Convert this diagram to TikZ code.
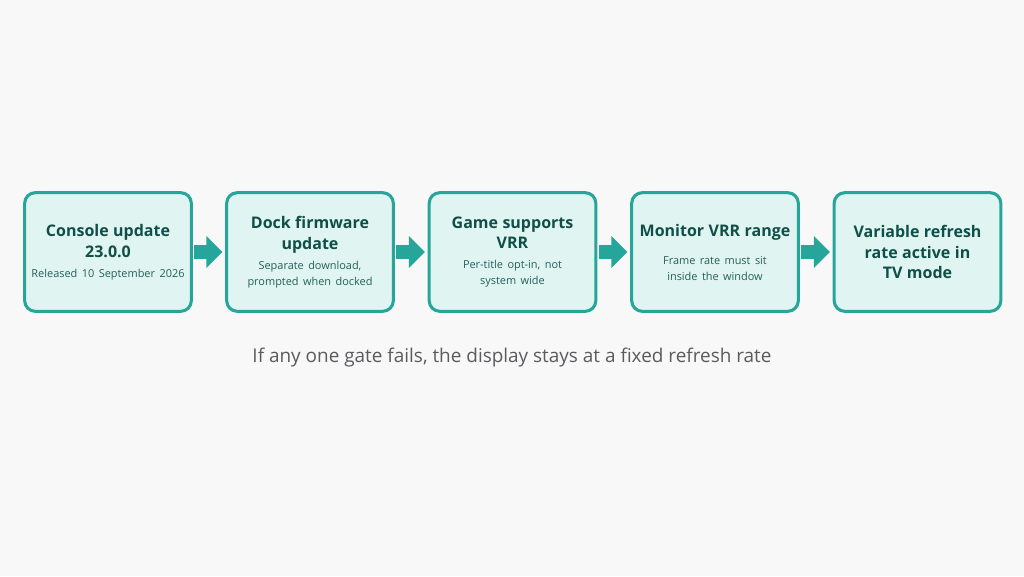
\documentclass[tikz,border=0pt]{standalone}
\usepackage{fontspec}
\setmainfont{Open Sans}
\usetikzlibrary{arrows.meta, positioning}

\definecolor{gateline}{HTML}{26A69A}
\definecolor{gatefill}{HTML}{E0F5F2}
\definecolor{gatetitle}{HTML}{0F4F48}
\definecolor{gatesub}{HTML}{245F58}
\definecolor{bgcol}{HTML}{F8F8F8}
\definecolor{notecol}{HTML}{5A5A60}

\begin{document}
\begin{tikzpicture}[x=0.75pt, y=-0.75pt]

% styles
\tikzset{gate/.style={draw=gateline, fill=gatefill, line width=2.3pt, rounded corners=8pt,
  minimum width=125pt, minimum height=89pt, text width=122pt, align=center, inner sep=0pt}}
\tikzset{flow/.style={draw=gateline, line width=10pt, -{Triangle[length=12pt, width=23pt]}, shorten <=1pt, shorten >=2pt}}
\newcommand{\gtitle}[1]{{\bfseries\fontsize{12}{15.5}\selectfont\color{gatetitle}#1\par}}
\newcommand{\gsub}[1]{{\fontsize{8.2}{12}\selectfont\color{gatesub}#1\par}}

\fill[bgcol] (0,0) rectangle (1024,576);
\useasboundingbox (0,0) rectangle (1024,576);

\node[gate] (g1) at (108,252) {\gtitle{Console update\\23.0.0}\vspace{3pt}\gsub{Released 10 September 2026}};
\node[gate] (g2) at (310,252) {\gtitle{Dock firmware\\update}\vspace{3pt}\gsub{Separate download,\\prompted when docked}};
\node[gate] (g3) at (512.5,252) {\gtitle{Game supports\\VRR}\vspace{3pt}\gsub{Per-title opt-in, not\\system wide}};
\node[gate] (g4) at (715,252) {\gtitle{Monitor VRR range}\vspace{9pt}\gsub{Frame rate must sit\\inside the window}};
\node[gate] (g5) at (917.5,252) {\gtitle{Variable refresh\\rate active in\\TV mode}};

\foreach \a/\b in {g1/g2, g2/g3, g3/g4, g4/g5} {
\draw[flow] (\a) -- (\b);
}

\node[font=\fontsize{14.2}{16}\selectfont, text=notecol] (note) at (512,358) {If any one gate fails, the display stays at a fixed refresh rate};

\end{tikzpicture}
\end{document}
